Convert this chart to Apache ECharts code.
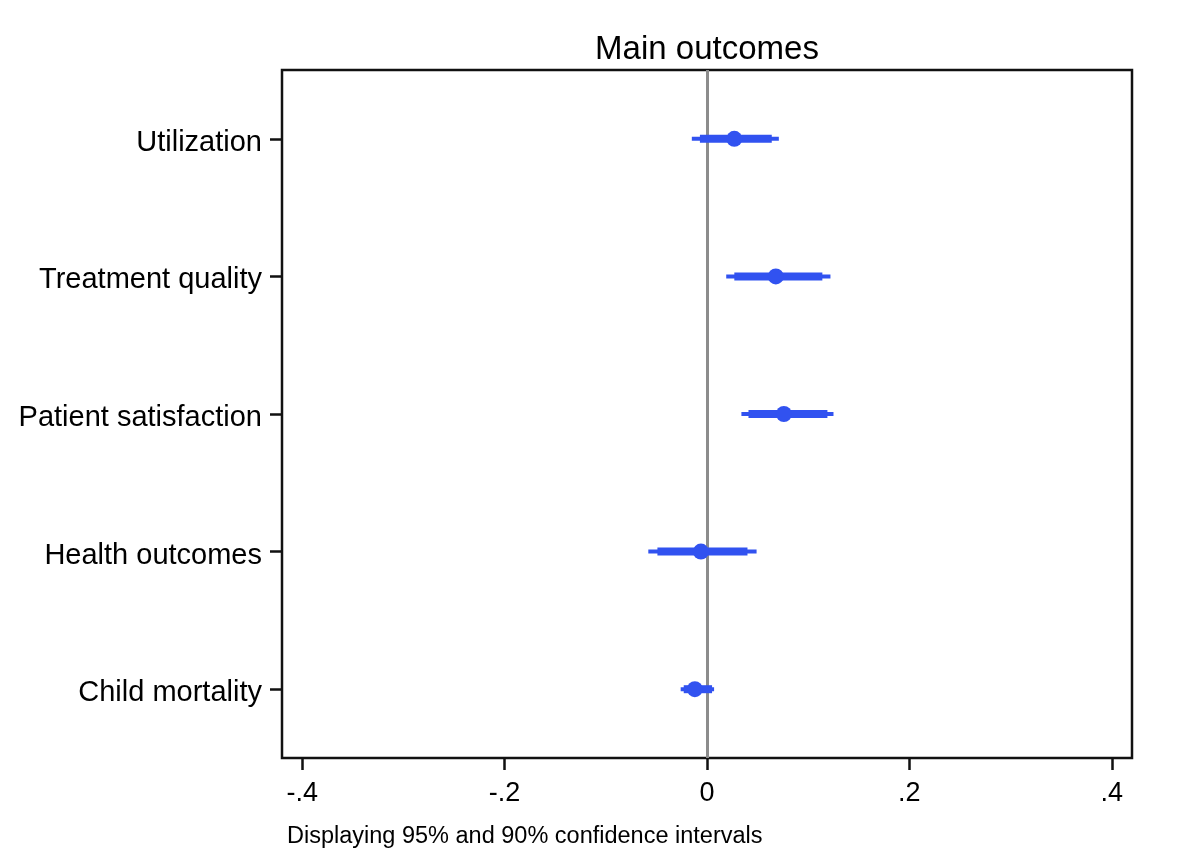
<!DOCTYPE html>
<html>
<head>
<meta charset="utf-8">
<title>Main outcomes</title>
<script src="https://cdn.jsdelivr.net/npm/echarts@6/dist/echarts.min.js"></script>
<style>
  html, body { margin: 0; padding: 0; background: #fff; }
  #main { width: 1200px; height: 861px; }
</style>
</head>
<body>
<div id="main"></div>
<script>
// outcome names, top to bottom
var outcomes = ["Utilization", "Treatment quality", "Patient satisfaction", "Health outcomes", "Child mortality"];
// point estimates
var estimates = [0.027, 0.068, 0.076, -0.006, -0.012];
// 95% confidence intervals
var lower95 = [-0.015, 0.019, 0.034, -0.058, -0.026];
var upper95 = [0.071, 0.122, 0.125, 0.049, 0.007];
// 90% confidence intervals
var lower90 = [-0.007, 0.027, 0.041, -0.049, -0.023];
var upper90 = [0.064, 0.114, 0.119, 0.040, 0.005];
// x axis ticks
var xTicks = [-0.4, -0.2, 0, 0.2, 0.4];

var font = '"Liberation Sans", Arial, Helvetica, sans-serif';
var blue = "#3152f0";

var data = outcomes.map(function(name, i) {
  return [i, estimates[i], lower95[i], upper95[i], lower90[i], upper90[i]];
});

var renderCI = function(params, api) {
  var cat = api.value(0);
  var p = api.coord([api.value(1), cat]);
  var a95 = api.coord([api.value(2), cat]);
  var b95 = api.coord([api.value(3), cat]);
  var a90 = api.coord([api.value(4), cat]);
  var b90 = api.coord([api.value(5), cat]);
  return {
    type: "group",
    children: [
      {
        type: "line",
        shape: { x1: a95[0], y1: a95[1], x2: b95[0], y2: b95[1] },
        style: { stroke: blue, lineWidth: 4, lineCap: "butt" }
      },
      {
        type: "line",
        shape: { x1: a90[0], y1: a90[1], x2: b90[0], y2: b90[1] },
        style: { stroke: blue, lineWidth: 8, lineCap: "butt" }
      },
      {
        type: "circle",
        shape: { cx: p[0], cy: p[1], r: 8 },
        style: { fill: blue }
      }
    ]
  };
};

var myChart = echarts.init(document.getElementById("main"));
var option = {
  backgroundColor: "#fff",
  animation: false,
  textStyle: { fontFamily: font, color: "#000" },
  graphic: [
    {
      type: "text",
      x: 707,
      y: 33,
      style: {
        text: "Main outcomes",
        font: "33px " + font,
        fill: "#000",
        textAlign: "center",
        textVerticalAlign: "top"
      }
    },
    {
      type: "text",
      x: 287,
      y: 825,
      style: {
        text: "Displaying 95% and 90% confidence intervals",
        font: "23.5px " + font,
        fill: "#000",
        textAlign: "left",
        textVerticalAlign: "top"
      }
    }
  ],
  grid: {
    left: 282,
    right: 68,
    top: 70,
    bottom: 103,
    show: true,
    borderColor: "#111",
    borderWidth: 2.5,
    containLabel: false
  },
  xAxis: {
    type: "value",
    min: -0.42,
    max: 0.42,
    splitLine: { show: false },
    axisLine: { show: false },
    axisTick: {
      show: true,
      customValues: xTicks,
      length: 12,
      lineStyle: { color: "#111", width: 2.5 }
    },
    axisLabel: {
      customValues: xTicks,
      margin: 22,
      fontSize: 27,
      color: "#000",
      fontFamily: font,
      formatter: function(v) {
        if (v === 0) return "0";
        return String(v).replace("0.", ".");
      }
    }
  },
  yAxis: {
    type: "category",
    data: outcomes,
    inverse: true,
    boundaryGap: true,
    axisLine: { show: false, onZero: false },
    splitLine: { show: false },
    axisTick: {
      show: true,
      alignWithLabel: true,
      length: 12,
      lineStyle: { color: "#111", width: 2.5 }
    },
    axisLabel: {
      margin: 20,
      fontSize: 29,
      color: "#000",
      fontFamily: font,
      formatter: function(v) {
        return "{l|" + v + "}";
      },
      rich: {
        l: {
          fontSize: 29,
          fontFamily: font,
          color: "#000",
          lineHeight: 29,
          padding: [8, 0, 0, 0]
        }
      }
    }
  },
  series: [
    {
      type: "custom",
      z: 10,
      renderItem: renderCI,
      encode: { x: [1, 2, 3, 4, 5], y: 0 },
      data: data,
      markLine: {
        silent: true,
        symbol: "none",
        label: { show: false },
        lineStyle: { color: "#8c8c8c", width: 3, type: "solid" },
        data: [{ xAxis: 0 }]
      }
    }
  ]
};
myChart.setOption(option);
</script>
</body>
</html>
